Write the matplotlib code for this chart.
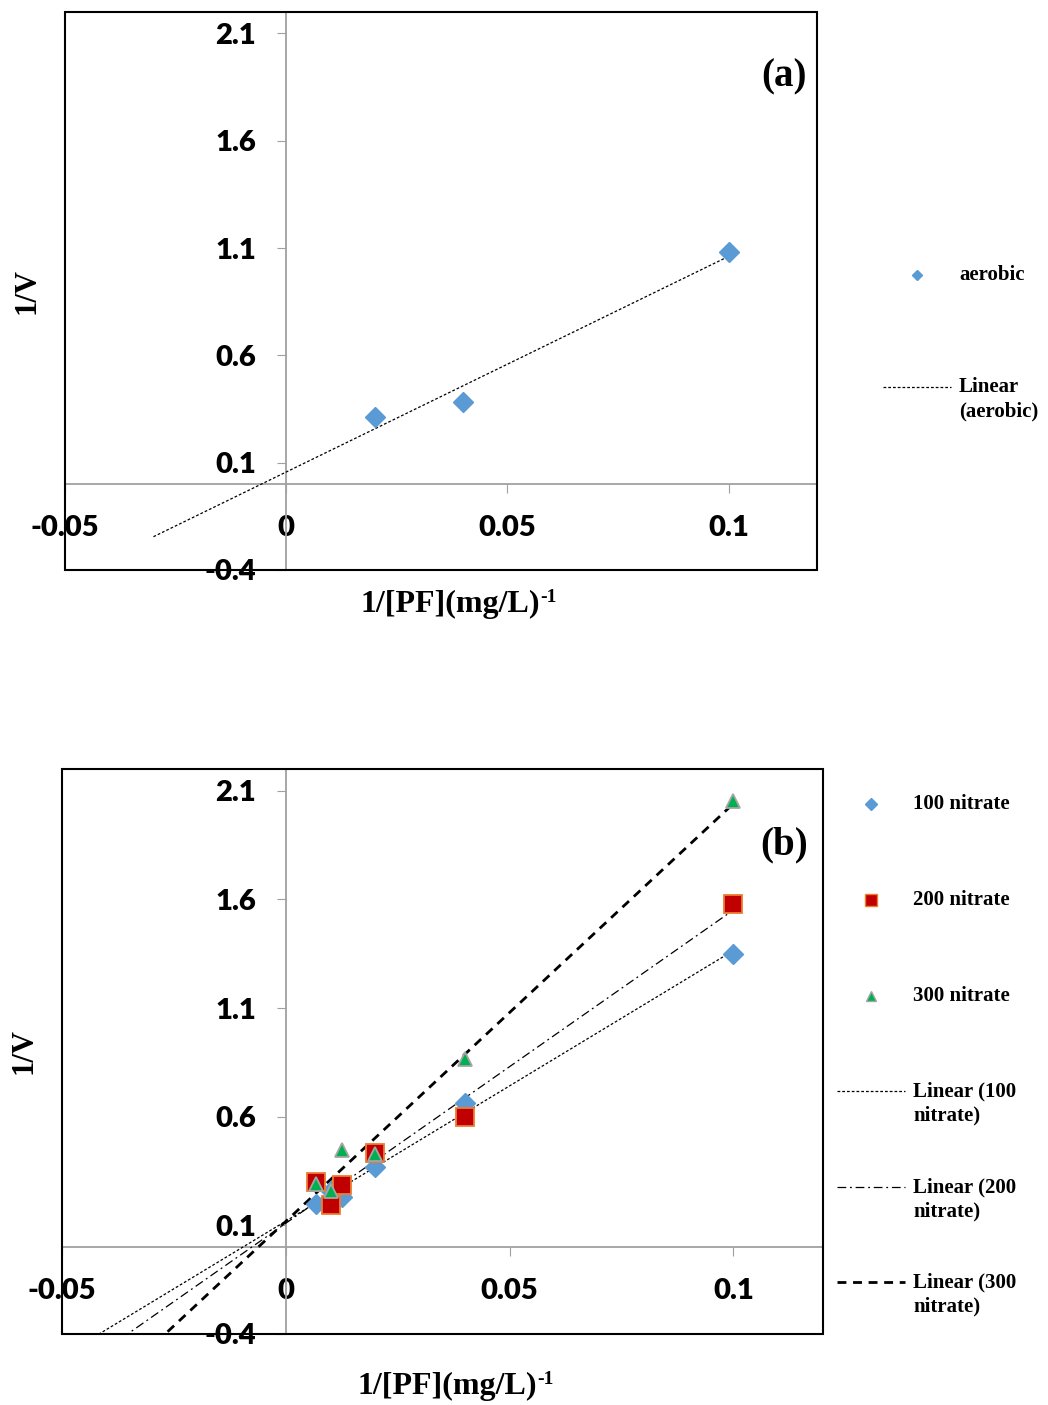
import numpy as np
import matplotlib
matplotlib.use("Agg")
import matplotlib.pyplot as plt
from matplotlib.lines import Line2D
from matplotlib.patches import Rectangle

# panel (a) data
x_a = [0.02, 0.04, 0.1]
y_aerobic = [0.314, 0.383, 1.08]

# panel (b) data
x_b = [0.00667, 0.01, 0.0125, 0.02, 0.04, 0.1]
y_100 = [0.20, 0.26, 0.23, 0.367, 0.665, 1.35]
y_200 = [0.298, 0.192, 0.284, 0.431, 0.60, 1.58]
y_300 = [0.29, 0.26, 0.445, 0.43, 0.867, 2.055]

x_ticks = [-0.05, 0, 0.05, 0.1]
x_tick_labels = ['-0.05', '0', '0.05', '0.1']
y_ticks = [-0.4, 0.1, 0.6, 1.1, 1.6, 2.1]
y_tick_labels = ['-0.4', '0.1', '0.6', '1.1', '1.6', '2.1']

blue = '#5B9BD5'
red = '#C00000'
orange = '#ED7D31'
green = '#00B050'
grey = '#A5A5A5'

SERIF = 'Liberation Serif'
TICKFONT = 'Lato'

fig = plt.figure(figsize=(10.48, 14.05), dpi=100)
W, H = 1048, 1405


def px_axes(l, t, r, b):
    return fig.add_axes([l / W, 1 - b / H, (r - l) / W, (b - t) / H])


def style_axes(ax):
    ax.set_xlim(-0.05, 0.12)
    ax.set_ylim(-0.4, 2.2)
    ax.spines['left'].set_position(('data', 0))
    ax.spines['bottom'].set_position(('data', 0))
    for s in ['left', 'bottom']:
        ax.spines[s].set_color('#A0A0A0')
        ax.spines[s].set_linewidth(1.3)
    for s in ['right', 'top']:
        ax.spines[s].set_visible(False)
    ax.add_patch(Rectangle((0, 0), 1, 1, transform=ax.transAxes, fill=False,
                           ec='black', lw=1.5, zorder=10, clip_on=False))
    ax.set_xticks(x_ticks)
    ax.set_xticklabels(x_tick_labels)
    ax.set_yticks(y_ticks)
    ax.set_yticklabels(y_tick_labels)
    ax.tick_params(axis='x', direction='out', length=6.5, color='#A0A0A0', pad=16)
    ax.tick_params(axis='y', direction='out', length=6.5, color='#A0A0A0', pad=15)
    for lab in ax.get_xticklabels() + ax.get_yticklabels():
        lab.set_fontfamily(TICKFONT)
        lab.set_fontweight('heavy')
        lab.set_fontsize(21)


def xlabel(ax, xs, y):
    # main text ends at xs, superscript "-1" starts there
    ax.text(xs, y, '1/[PF](mg/L)', transform=ax.transAxes, ha='right', va='center',
            fontsize=23, fontweight='bold', fontfamily=SERIF)
    ax.text(xs, y + 0.012, '-1', transform=ax.transAxes, ha='left', va='center',
            fontsize=14, fontweight='bold', fontfamily=SERIF)


def trend(ax, x, y, x0, **kw):
    k, c = np.polyfit(x, y, 1)
    xx = np.array([x0, max(x)])
    ax.plot(xx, k * xx + c, color='black', zorder=3, **kw)


dot = (0, (2.2, 1.6))
dashdot = (0, (7, 3, 1.5, 3))
dash = (0, (3.2, 2.4))

# ---------- panel (a)
ax1 = px_axes(65, 12, 817, 570)
style_axes(ax1)
trend(ax1, x_a, y_aerobic, -0.03, lw=0.9, linestyle=dot)
ax1.plot(x_a, y_aerobic, linestyle='none', marker='D', ms=10, color=blue,
         mec=blue, zorder=4)
ax1.text(0.987, 0.884, '(a)', transform=ax1.transAxes, ha='right', va='center',
         fontsize=28, fontweight='bold', fontfamily=SERIF)
ax1.text(-0.05, 0.5, '1/V', transform=ax1.transAxes, rotation=90, ha='center',
         va='center', fontsize=22, fontweight='bold', fontfamily=SERIF)
xlabel(ax1, 0.632, -0.062)

# ---------- panel (b)
ax2 = px_axes(62, 769, 823, 1334)
style_axes(ax2)
trend(ax2, x_b, y_100, -0.05, lw=0.9, linestyle=dot)
trend(ax2, x_b, y_200, -0.05, lw=0.9, linestyle=dashdot)
trend(ax2, x_b, y_300, -0.05, lw=2.0, linestyle=dash)
ax2.plot(x_b, y_100, linestyle='none', marker='D', ms=10, color=blue, mec=blue, zorder=4)
ax2.plot(x_b, y_200, linestyle='none', marker='s', ms=13, color=red, mec=orange,
         mew=1.3, zorder=5)
ax2.plot(x_b, y_300, linestyle='none', marker='^', ms=10.5, color=green, mec=grey,
         mew=1.3, zorder=6)
ax2.text(0.98, 0.865, '(b)', transform=ax2.transAxes, ha='right', va='center',
         fontsize=28, fontweight='bold', fontfamily=SERIF)
ax2.text(-0.05, 0.5, '1/V', transform=ax2.transAxes, rotation=90, ha='center',
         va='center', fontsize=22, fontweight='bold', fontfamily=SERIF)
xlabel(ax2, 0.624, -0.092)


# ---------- legends (drawn by hand, Excel style)
def leg_text(x, y, lines):
    for i, t in enumerate(lines):
        fig.text(x / W, 1 - (y + 24 * i) / H, t, ha='left', va='center',
                 fontsize=15, fontweight='bold', fontfamily=SERIF)


def leg_marker(x, y, **kw):
    fig.add_artist(Line2D([x / W], [1 - y / H], linestyle='none', **kw))


def leg_line(x0, x1, y, **kw):
    fig.add_artist(Line2D([x0 / W, x1 / W], [1 - y / H, 1 - y / H], color='black', **kw))


leg_marker(917, 275, marker='D', ms=5, color=blue, mec=blue)
leg_text(959, 275, ['aerobic'])
leg_line(883, 951, 387, lw=0.9, linestyle=dot)
leg_text(959, 387, ['Linear', '(aerobic)'])

leg_marker(871, 804, marker='D', ms=6, color=blue, mec=blue)
leg_text(913, 804, ['100 nitrate'])
leg_marker(871, 900, marker='s', ms=8, color=red, mec=orange, mew=1)
leg_text(913, 900, ['200 nitrate'])
leg_marker(871, 996, marker='^', ms=7, color=green, mec=grey, mew=1)
leg_text(913, 996, ['300 nitrate'])
leg_line(837, 905, 1091, lw=0.9, linestyle=dot)
leg_text(913, 1091, ['Linear (100', 'nitrate)'])
leg_line(837, 905, 1187, lw=0.9, linestyle=dashdot)
leg_text(913, 1187, ['Linear (200', 'nitrate)'])
leg_line(837, 905, 1282, lw=2.0, linestyle=dash)
leg_text(913, 1282, ['Linear (300', 'nitrate)'])

fig.savefig('out.png', dpi=100)
